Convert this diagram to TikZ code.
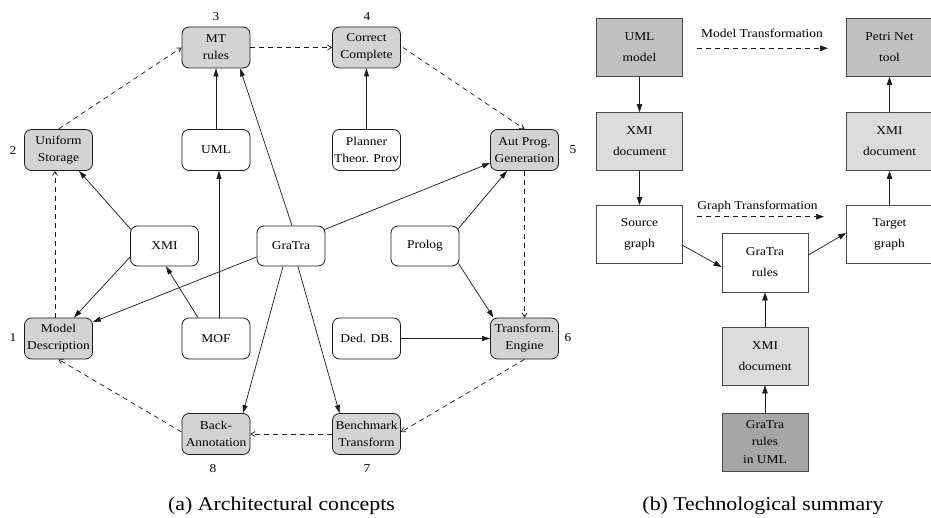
\documentclass[tikz,border=0pt]{standalone}
\usepackage{fontspec}
\setmainfont{Liberation Serif}[FakeStretch=1.12]
\usetikzlibrary{arrows.meta}
\definecolor{leftgray}{HTML}{D3D3D3}
\definecolor{umlgray}{HTML}{C0C0C0}
\definecolor{xmigray}{HTML}{DCDCDC}
\definecolor{gragray}{HTML}{A6A6A6}
\definecolor{edgecol}{HTML}{1A1A1A}
\tikzset{
  x=1pt, y=-1pt,
  lbox/.style={draw=edgecol, line width=0.8pt, rounded corners=7pt, minimum width=68pt, minimum height=41pt,
    inner sep=1pt, align=center, fill=white, font=\fontsize{12}{17}\selectfont},
  gbox/.style={lbox, fill=leftgray},
  rbox/.style={draw=edgecol!80, line width=0.8pt, minimum width=86pt, minimum height=58pt,
    inner sep=1pt, align=center, fill=white, font=\fontsize{12}{21}\selectfont},
  numlbl/.style={font=\fontsize{12}{14}\selectfont, inner sep=0pt},
  solidarrow/.style={draw=edgecol, line width=0.7pt, -{Triangle[length=8pt,width=5pt]}},
  dasharrow/.style={draw=edgecol, line width=0.7pt, dash pattern=on 5pt off 4pt, -{Straight Barb[length=4pt,width=5pt]}},
  rarrow/.style={draw=edgecol, line width=0.7pt, -{Triangle[length=8pt,width=5.5pt]}},
  rdash/.style={rarrow, dash pattern=on 5pt off 4pt},
  caption/.style={font=\fontsize{19.5}{23}\selectfont, anchor=base, inner sep=0pt},
}
\begin{document}
\begin{tikzpicture}
\useasboundingbox[fill=white] (0,0) rectangle (931,518);

% ---------- (a) Architectural concepts ----------
\node[gbox] (mt)  at (216,47.5)    {MT\\rules};
\node[gbox] (cc)  at (366.5,47.5)  {Correct\\Complete};
\node[gbox] (us)  at (58.5,150)    {Uniform\\Storage};
\node[lbox] (uml) at (216,150)     {UML};
\node[lbox] (pl)  at (366.5,150)   {Planner\\Theor. Prov};
\node[gbox] (apg) at (524.5,150)   {Aut Prog.\\Generation};
\node[lbox, minimum height=40pt] (xmi) at (164.5,246) {XMI};
\node[lbox, minimum height=40pt] (gt)  at (291,246)   {GraTra};
\node[lbox, minimum height=40pt] (pr)  at (425,246)   {Prolog};
\node[gbox] (md)  at (58.5,338.5)  {Model\\Description};
\node[lbox] (mof) at (216,338.5)   {MOF};
\node[lbox] (ded) at (366.5,338.5) {Ded. DB.};
\node[gbox] (te)  at (524.5,338.5) {Transform.\\Engine};
\node[gbox] (ba)  at (216,434)     {Back-\\Annotation};
\node[gbox] (bt)  at (366.5,434)   {Benchmark\\Transform};

\node[numlbl] (n3) at (216,16.5) {3};
\node[numlbl] (n4) at (367,16.5) {4};
\node[numlbl] (n2) at (13,150.5) {2};
\node[numlbl] (n5) at (573,150) {5};
\node[numlbl] (n1) at (13,338) {1};
\node[numlbl] (n6) at (568,338) {6};
\node[numlbl] (n8) at (213,469) {8};
\node[numlbl] (n7) at (367,469) {7};

% dashed cycle
\draw[dasharrow] (us.north) -- (mt.west);
\draw[dasharrow] (mt.east) -- (cc.west);
\draw[dasharrow] ([xshift=2pt]cc.east) -- (apg.north);
\draw[dasharrow] (apg.south) -- (te.north);
\draw[dasharrow] (te.south) -- ([yshift=2pt]bt.east);
\draw[dasharrow] (bt.west) -- (ba.east);
\draw[dasharrow] ([yshift=2pt]ba.west) -- (md.south);
\draw[dasharrow] ([xshift=-3.5pt]md.north) -- ([xshift=-3.5pt]us.south);

% solid arrows
\draw[solidarrow] (uml.north) -- (mt.south);
\draw[solidarrow] ([xshift=3pt]mof.north) -- ([xshift=3pt]uml.south);
\draw[solidarrow] ([xshift=-18pt]mof.north) -- ([xshift=1.5pt]xmi.south);
\draw[solidarrow] ([xshift=1pt,yshift=-4pt]xmi.north west) -- ([xshift=20.5pt]us.south);
\draw[solidarrow] ([yshift=-11pt]xmi.west) -- ([xshift=15.5pt]md.north);
\draw[solidarrow] ([yshift=-11pt]gt.west) -- ([yshift=16.5pt]md.east);
\draw[solidarrow] ([xshift=1pt]gt.north) -- ([xshift=24pt]mt.south);
\draw[solidarrow] ([xshift=-1pt,yshift=-4pt]gt.north east) -- ([yshift=-13pt]apg.west);
\draw[solidarrow] ([xshift=-8pt]gt.south) -- ([xshift=27pt]ba.north);
\draw[solidarrow] ([xshift=7pt]gt.south) -- ([xshift=-27pt]bt.north);
\draw[solidarrow] (pl.north) -- (cc.south);
\draw[solidarrow] ([xshift=-1pt,yshift=-3pt]pr.north east) -- ([xshift=-17.5pt]apg.south);
\draw[solidarrow] ([xshift=-1pt,yshift=3pt]pr.south east) -- ([xshift=-31pt]te.north);
\draw[solidarrow] (ded.east) -- (te.west);

\node[caption] (capa) at (281.5,510) {(a) Architectural concepts};

% ---------- (b) Technological summary ----------
\node[rbox, fill=umlgray] (umlm) at (639.5,47.5)  {UML\\model};
\node[rbox, fill=xmigray] (xmil) at (639.5,141.5) {XMI\\document};
\node[rbox]               (src)  at (639.5,234.5) {Source\\graph};
\node[rbox, fill=umlgray] (pn)   at (889.5,47.5)  {Petri Net\\tool};
\node[rbox, fill=xmigray] (xmir) at (889.5,141.5) {XMI\\document};
\node[rbox]               (tg)   at (889.5,234.5) {Target\\graph};
\node[rbox, minimum height=59pt] (gr) at (765,262.5) {GraTra\\rules};
\node[rbox, fill=xmigray] (xmib) at (765,356)     {XMI\\document};
\node[rbox, fill=gragray, font=\fontsize{12}{17.5}\selectfont] (gru) at (765,442) {GraTra\\rules\\in UML};

\draw[rarrow] (umlm.south) -- (xmil.north);
\draw[rarrow] (xmil.south) -- (src.north);
\draw[rarrow] ([yshift=-11pt]src.east) -- ([yshift=-4.5pt]gr.west);
\draw[rarrow] ([yshift=7.5pt]gr.east) -- ([yshift=1.5pt]tg.west);
\draw[rarrow] (tg.north) -- (xmir.south);
\draw[rarrow] (xmir.north) -- (pn.south);
\draw[rarrow] (xmib.north) -- (gr.south);
\draw[rarrow] (gru.north) -- (xmib.south);

\coordinate (mtA) at (697,48.3);
\coordinate (mtB) at (828,48.3);
\coordinate (gtA) at (697,216.7);
\coordinate (gtB) at (824,216.7);
\draw[rdash] (mtA) -- (mtB);
\draw[rdash] (gtA) -- (gtB);
\node[font=\fontsize{12}{14}\selectfont, anchor=base, inner sep=0pt] (mtl) at (762,37.7) {Model Transformation};
\node[font=\fontsize{12}{14}\selectfont, anchor=base, inner sep=0pt] (gtl) at (757.5,209.5) {Graph Transformation};

\node[caption] (capb) at (763,510) {(b) Technological summary};
\end{tikzpicture}
\end{document}
